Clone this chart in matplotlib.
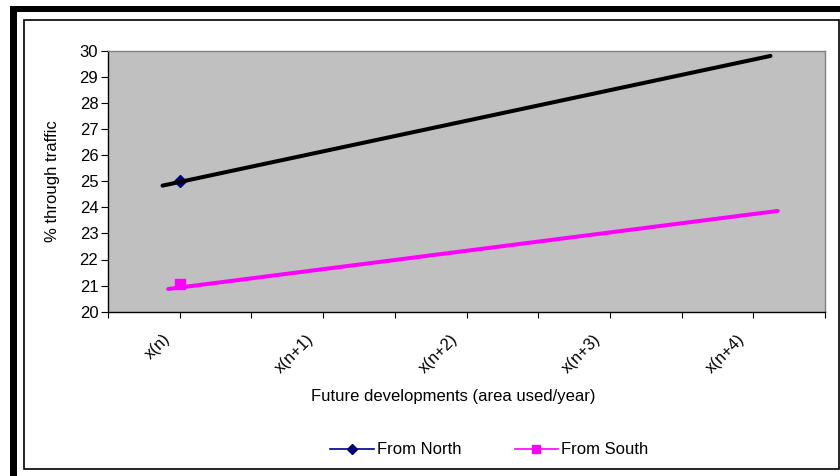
import matplotlib.pyplot as plt
import matplotlib.transforms as mtransforms
from matplotlib.lines import Line2D
from matplotlib.patches import Rectangle

plt.rcParams['font.family'] = ['Liberation Sans', 'DejaVu Sans']

categories = ['x(n)', 'x(n+1)', 'x(n+2)', 'x(n+3)', 'x(n+4)']
north_vals = [25.0]
south_vals = [21.05]

# trendlines (start/end)
north_trend_x = [-0.12, 4.12]
north_trend_y = [24.83, 29.8]
south_trend_x = [-0.08, 4.17]
south_trend_y = [20.87, 23.86]

fig = plt.figure(figsize=(8.4, 4.76), dpi=100)
W, H = 840.0, 476.0
fs = 12

# outer frame: thick black bars on top / left, thin inner box
fig.patches.append(Rectangle((10 / W, 1 - 12 / H), 830 / W, 6 / H, transform=fig.transFigure,
                             facecolor='black', edgecolor='none'))
fig.patches.append(Rectangle((10 / W, 0), 7 / W, 1 - 6 / H, transform=fig.transFigure,
                             facecolor='black', edgecolor='none'))
fig.patches.append(Rectangle((23.5 / W, 1 - 469 / H), 815 / W, 449.5 / H, transform=fig.transFigure,
                             facecolor='none', edgecolor='black', linewidth=1.2))

ax = fig.add_axes([108 / W, 1 - 311.7 / H, 717 / W, 261 / H])
ax.set_facecolor('#C0C0C0')

ax.plot(north_trend_x, north_trend_y, color='black', linewidth=2.9, solid_capstyle='round', zorder=3)
ax.plot(south_trend_x, south_trend_y, color='#FF00FF', linewidth=2.9, solid_capstyle='round', zorder=3)
ax.plot([0], north_vals, linestyle='none', marker='D', markersize=6, color='#000080', zorder=2)
ax.plot([0], south_vals, linestyle='none', marker='s', markersize=7, color='#FF00FF', zorder=2)

ax.set_xlim(-0.5, 4.5)
ax.set_ylim(20, 30)
ax.set_yticks(range(20, 31))
ax.set_xticks(range(len(categories)))
ax.set_xticks([i - 0.5 for i in range(len(categories) + 1)], minor=True)
ax.set_xticklabels(categories, rotation=45, ha='right', va='top')
ax.tick_params(axis='x', which='both', direction='out', length=4, width=0.8, pad=10, labelsize=fs)
ax.tick_params(axis='y', direction='out', length=5, width=0.8, pad=2, labelsize=fs)

offset = mtransforms.ScaledTranslation(-6 / 100, 0, fig.dpi_scale_trans)
for lab in ax.get_xticklabels():
    lab.set_transform(lab.get_transform() + offset)

for side in ['top', 'right']:
    ax.spines[side].set_color('#808080')
for side in ['left', 'bottom']:
    ax.spines[side].set_color('black')
for s in ax.spines.values():
    s.set_linewidth(1.0)

ax.set_ylabel('% through traffic', fontsize=fs)
ax.yaxis.set_label_coords(-0.067, 0.5)
ax.set_xlabel('Future developments (area used/year)', fontsize=fs)
ax.xaxis.set_label_coords(0.481, -0.295)

handles = [Line2D([], [], color='#000080', marker='D', markersize=5, linewidth=1.2),
           Line2D([], [], color='#FF00FF', marker='s', markersize=6, linewidth=1.2)]
fig.legend(handles, ['From North', 'From South'], loc='center', bbox_to_anchor=(489.5 / W, 1 - 450 / H),
           ncol=2, frameon=False, fontsize=fs, handlelength=2.6, handletextpad=0.2,
           columnspacing=3.2)

fig.savefig('out.png', dpi=100)
